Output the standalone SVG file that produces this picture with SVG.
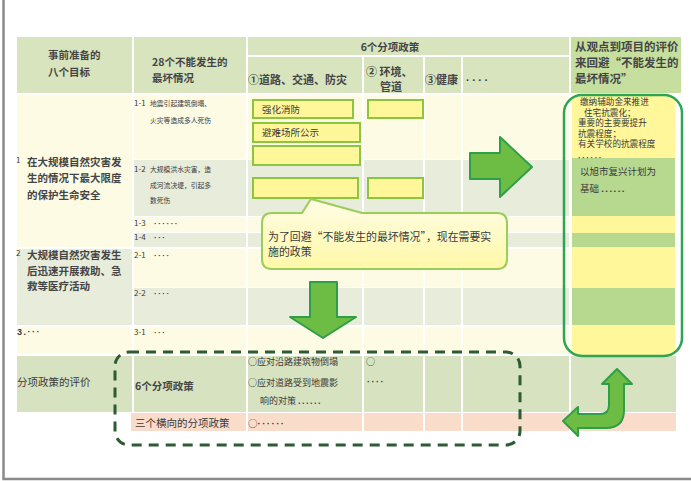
<svg xmlns="http://www.w3.org/2000/svg" width="691" height="481" viewBox="0 0 691 481">
<style>
.t{font-family:"Noto Sans CJK SC","Noto Sans",sans-serif;fill:#3a3a3a}
.d{font-family:"Liberation Sans",sans-serif;font-weight:bold;letter-spacing:1.5px}
.b{font-weight:bold;fill:#454545}
.hd{fill:#d7e4bd}
.hr{fill:#c6de9e}
.ly{fill:#fdfbe3}
.gy{fill:#e8ecda}
.ev{fill:#d6e2c0}
.pk{fill:#fadccb}
.yb{fill:#fff799;stroke:#8cc63f;stroke-width:2}
.arr{fill:#6dbd45;stroke:#2e9e48;stroke-width:2;stroke-linejoin:round}
</style>
<defs>
<linearGradient id="cg" x1="0" y1="0" x2="0" y2="1">
<stop offset="0" stop-color="#fffde6"/>
<stop offset="1" stop-color="#fff8a8"/>
</linearGradient>
<clipPath id="rc"><rect x="565" y="96" width="116" height="259" rx="17"/></clipPath>
</defs>
<rect width="691" height="481" fill="#fff"/>
<path d="M3.5,0 V479 H691" fill="none" stroke="#8a8a8a" stroke-width="2.5"/>

<g id="table">
<rect class="hd" x="17" y="37" width="115" height="56"/>
<rect class="hd" x="134" y="37" width="112" height="56"/>
<rect class="hd" x="248" y="37" width="321" height="18"/>
<rect class="hd" x="248" y="57" width="114" height="36"/>
<rect class="hd" x="364" y="57" width="59" height="36"/>
<rect class="hd" x="425" y="57" width="36" height="36"/>
<rect class="hd" x="463" y="57" width="106" height="36"/>
<rect class="hr" x="571" y="37" width="110" height="56"/>

<rect class="ly" x="17" y="95" width="115" height="152"/>
<rect class="gy" x="17" y="249" width="115" height="76"/>
<rect class="ly" x="17" y="327" width="115" height="27"/>

<g id="r1" class="ly"><rect x="134" y="95" width="112" height="64"/><rect x="248" y="95" width="114" height="64"/><rect x="364" y="95" width="59" height="64"/><rect x="425" y="95" width="36" height="64"/><rect x="463" y="95" width="106" height="64"/></g>
<g id="r2" class="gy"><rect x="134" y="160" width="112" height="56"/><rect x="248" y="160" width="114" height="56"/><rect x="364" y="160" width="59" height="56"/><rect x="425" y="160" width="36" height="56"/><rect x="463" y="160" width="106" height="56"/></g>
<g id="r3" class="ly"><rect x="134" y="217" width="112" height="15"/><rect x="248" y="217" width="114" height="15"/><rect x="364" y="217" width="59" height="15"/><rect x="425" y="217" width="36" height="15"/><rect x="463" y="217" width="106" height="15"/></g>
<g id="r4" class="gy"><rect x="134" y="233" width="112" height="14"/><rect x="248" y="233" width="114" height="14"/><rect x="364" y="233" width="59" height="14"/><rect x="425" y="233" width="36" height="14"/><rect x="463" y="233" width="106" height="14"/></g>
<g id="r5" class="ly"><rect x="134" y="249" width="112" height="38"/><rect x="248" y="249" width="114" height="38"/><rect x="364" y="249" width="59" height="38"/><rect x="425" y="249" width="36" height="38"/><rect x="463" y="249" width="106" height="38"/></g>
<g id="r6" class="gy"><rect x="134" y="288" width="112" height="37"/><rect x="248" y="288" width="114" height="37"/><rect x="364" y="288" width="59" height="37"/><rect x="425" y="288" width="36" height="37"/><rect x="463" y="288" width="106" height="37"/></g>
<g id="r7" class="ly"><rect x="134" y="327" width="112" height="27"/><rect x="248" y="327" width="114" height="27"/><rect x="364" y="327" width="59" height="27"/><rect x="425" y="327" width="36" height="27"/><rect x="463" y="327" width="106" height="27"/></g>
<g id="rev" class="ev"><rect x="17" y="356" width="115" height="56"/><rect x="134" y="356" width="112" height="56"/><rect x="248" y="356" width="114" height="56"/><rect x="364" y="356" width="59" height="56"/><rect x="425" y="356" width="36" height="56"/><rect x="463" y="356" width="106" height="56"/><rect x="571" y="356" width="105" height="56"/></g>
<g id="rpk" class="pk"><rect x="131" y="413" width="115" height="18"/><rect x="248" y="413" width="114" height="18"/><rect x="364" y="413" width="59" height="18"/><rect x="425" y="413" width="36" height="18"/><rect x="463" y="413" width="106" height="18"/><rect x="571" y="413" width="105" height="18"/></g>

<g clip-path="url(#rc)">
<rect x="572" y="95" width="103" height="63" fill="#fff799"/>
<rect x="572" y="158" width="103" height="58" fill="#b6d88f"/>
<rect x="572" y="216" width="103" height="17" fill="#fff799"/>
<rect x="572" y="233" width="103" height="14" fill="#b6d88f"/>
<rect x="572" y="247" width="103" height="41" fill="#fff799"/>
<rect x="572" y="288" width="103" height="37" fill="#b6d88f"/>
<rect x="572" y="325" width="103" height="32" fill="#fff799"/>
</g>
</g>

<g id="headers">
<text class="t b" x="48" y="59" font-size="10.5">事前准备的</text>
<text class="t b" x="48" y="76" font-size="10.5">八个目标</text>
<text class="t b" x="152" y="66" font-size="10.5">28个不能发生的</text>
<text class="t b" x="152" y="82" font-size="10.5">最坏情况</text>
<text class="t b" x="390" y="51" font-size="10.5" text-anchor="middle">6个分项政策</text>
<text class="t b" x="248" y="84" font-size="11">①道路、交通、防灾</text>
<text class="t b" x="366" y="76" font-size="11">② 环境、</text>
<text class="t b" x="380" y="91" font-size="11">管道</text>
<text class="t b" x="425" y="84" font-size="11">③健康</text>
<text class="t d" x="466" y="84" font-size="11" style="letter-spacing:2.5px">····</text>
<text class="t b" x="575" y="51" font-size="11.5">从观点到项目的评价</text>
<text class="t b" x="575" y="67" font-size="11.5">来回避“不能发生的</text>
<text class="t b" x="575" y="83" font-size="11.5">最坏情况”</text>
</g>

<g id="goals">
<text class="t" x="16" y="163" font-size="8">1</text>
<text class="t b" x="27" y="166" font-size="10.5">在大规模自然灾害发</text>
<text class="t b" x="27" y="182" font-size="10.5">生的情况下最大限度</text>
<text class="t b" x="27" y="199" font-size="10.5">的保护生命安全</text>
<text class="t" x="16" y="256" font-size="8">2</text>
<text class="t b" x="27" y="259" font-size="10.5">大规模自然灾害发生</text>
<text class="t b" x="27" y="275" font-size="10.5">后迅速开展救助、急</text>
<text class="t b" x="27" y="290" font-size="10.5">救等医疗活动</text>
<text class="t d" x="17" y="335" font-size="9">3.···</text>
</g>

<g id="cases">
<text class="t" x="134" y="106" font-size="8">1-1</text>
<text class="t" x="150" y="106" font-size="6.8">地震引起建筑倒塌、</text>
<text class="t" x="150" y="123" font-size="6.8">火灾等造成多人死伤</text>
<text class="t" x="134" y="172" font-size="8">1-2</text>
<text class="t" x="150" y="172" font-size="6.8">大规模洪水灾害，造</text>
<text class="t" x="150" y="188" font-size="6.8">成河流决堤，引起多</text>
<text class="t" x="150" y="203" font-size="6.8">数死伤</text>
<text class="t" x="134" y="226" font-size="8">1-3<tspan class="d" x="154">······</tspan></text>
<text class="t" x="134" y="240" font-size="8">1-4<tspan class="d" x="154">···</tspan></text>
<text class="t" x="134" y="258" font-size="8">2-1<tspan class="d" x="154">····</tspan></text>
<text class="t" x="134" y="296" font-size="8">2-2<tspan class="d" x="154">····</tspan></text>
<text class="t" x="134" y="335" font-size="8">3-1<tspan class="d" x="154">···</tspan></text>
</g>

<g id="box1"><rect class="yb" x="253" y="100" width="100" height="18"/><text class="t" x="262" y="113" font-size="9.5">强化消防</text></g>
<g id="box2"><rect class="yb" x="253" y="123" width="107" height="19"/><text class="t" x="262" y="136" font-size="9.5">避难场所公示</text></g>
<g id="box3"><rect class="yb" x="253" y="146" width="107" height="19"/></g>
<g id="box4"><rect class="yb" x="253" y="178" width="105" height="20"/></g>
<g id="box5"><rect class="yb" x="368" y="100" width="55" height="18"/></g>
<g id="box6"><rect class="yb" x="368" y="178" width="55" height="20"/></g>

<g id="callout">
<path d="M272,213 L302,213 L311,199 L362,213 L497,213 Q507,213 507,223 L507,259 Q507,269 497,269 L272,269 Q262,269 262,259 L262,223 Q262,213 272,213 Z" fill="url(#cg)" stroke="#9acd5a" stroke-width="2"/>
<text class="t" x="268" y="241" font-size="10.9">为了回避“不能发生的最坏情况”，现在需要实</text>
<text class="t" x="268" y="256" font-size="10.9">施的政策</text>
</g>

<g id="evaluation">
<rect x="564" y="95" width="118" height="261" rx="18" fill="none" stroke="#2ea455" stroke-width="2.5"/>
<text class="t" x="580" y="105" font-size="8.6">缴纳辅助金来推进</text>
<text class="t" x="584" y="115.5" font-size="8.6">住宅抗震化；</text>
<text class="t" x="578" y="126" font-size="8.6">重要的主要要提升</text>
<text class="t" x="578" y="136.5" font-size="8.6">抗震程度；</text>
<text class="t" x="578" y="147" font-size="8.6">有关学校的抗震程度</text>
<text class="t d" x="578" y="160" font-size="8">······</text>
<text class="t" x="580" y="175" font-size="9.5">以旭市复兴计划为</text>
<text class="t" x="580" y="192" font-size="9.5">基础 <tspan class="d">......</tspan></text>
</g>

<g id="policy-eval">
<text class="t" x="17" y="386" font-size="10.5">分项政策的评价</text>
<text class="t b" x="135" y="390" font-size="10.5">6个分项政策</text>
<text class="t" x="135" y="427" font-size="10.5" fill="#5a3a30">三个横向的分项政策</text>
<text class="t" x="248" y="365" font-size="9">○应对沿路建筑物倒塌</text>
<text class="t" x="248" y="386" font-size="9">○应对道路受到地震影</text>
<text class="t" x="260" y="404" font-size="9">响的对策 <tspan class="d">......</tspan></text>
<text class="t" x="366" y="365" font-size="9">○</text>
<text class="t d" x="367" y="385" font-size="9">····</text>
<text class="t" x="248" y="427" font-size="9.5">○<tspan class="d">······</tspan></text>
<rect x="115" y="352" width="405" height="93" rx="14" fill="none" stroke="#2d5b32" stroke-width="3" stroke-dasharray="10 7"/>
</g>

<g id="connectors">
<path class="arr" d="M470,153 L500,153 L500,137 L532,167 L500,197 L500,179 L470,179 Z"/>
<path class="arr" d="M310,282 L337,282 L337,317 L356,317 L323,338 L290,317 L310,317 Z"/>
<path class="arr" d="M617,369 L632,384 L624,384 L624,410 Q624,428 606,428 L578,428 L578,436 L563,421 L578,407 L578,414 L600,414 Q609,414 609,405 L609,384 L602,384 Z"/>
</g>
</svg>
